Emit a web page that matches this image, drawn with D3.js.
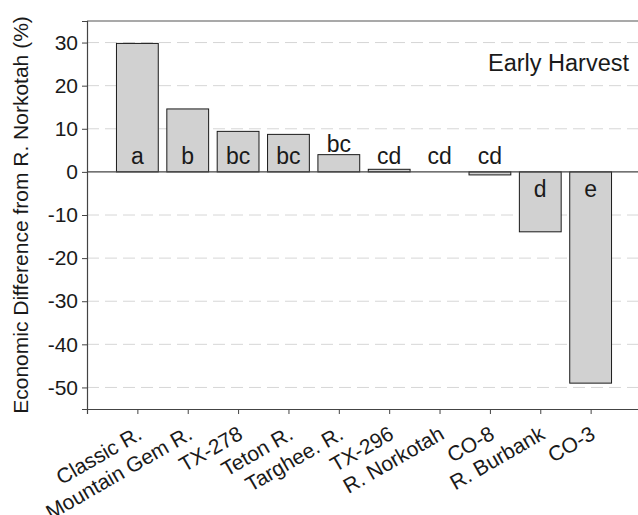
<!DOCTYPE html>
<html>
<head>
<meta charset="utf-8">
<script src="https://cdn.jsdelivr.net/npm/d3@7"></script>
<style>
  body { margin: 0; background: #fff; }
  text { font-family: "Liberation Sans", Arial, sans-serif; fill: #1a1a1a; }
</style>
</head>
<body>
<script>
const width = 638;
const height = 515;

// data
const cultivars = ["Classic R.", "Mountain Gem R.", "TX-278", "Teton R.", "Targhee. R.",
                   "TX-296", "R. Norkotah", "CO-8", "R. Burbank", "CO-3"];
const econDiff = [29.8, 14.6, 9.4, 8.7, 4.0, 0.6, 0, -0.7, -13.9, -49.0];
const groups = ["a", "b", "bc", "bc", "bc", "cd", "cd", "cd", "d", "e"];
const yTicks = [-50, -40, -30, -20, -10, 0, 10, 20, 30];

const margin = {top: 21, left: 87, bottom: 409};

const svg = d3.select("body").append("svg")
    .attr("width", width)
    .attr("height", height);

const x = d3.scaleLinear().domain([0, 11]).range([margin.left, 641]);
const y = d3.scaleLinear().domain([-55, 35]).range([margin.bottom, margin.top]);

// dashed grid
svg.append("g")
  .selectAll("line")
  .data(yTicks.filter(d => d !== 0))
  .join("line")
    .attr("x1", margin.left).attr("x2", width)
    .attr("y1", d => y(d)).attr("y2", d => y(d))
    .attr("stroke", "#d6d6d6")
    .attr("stroke-width", 1)
    .attr("stroke-dasharray", "12,6");

// bars
const bw = 0.83;
svg.append("g")
  .selectAll("rect")
  .data(econDiff)
  .join("rect")
    .attr("x", (d, i) => x(i + 1 - bw / 2))
    .attr("width", x(bw) - x(0))
    .attr("y", d => y(Math.max(d, 0)))
    .attr("height", d => Math.abs(y(d) - y(0)))
    .attr("fill", "#d1d1d1")
    .attr("stroke", "#1a1a1a")
    .attr("stroke-width", 1);

// zero line
svg.append("line")
    .attr("x1", margin.left).attr("x2", width)
    .attr("y1", y(0)).attr("y2", y(0))
    .attr("stroke", "#444").attr("stroke-width", 1.2);

// top frame
svg.append("line")
    .attr("x1", margin.left).attr("x2", width)
    .attr("y1", margin.top).attr("y2", margin.top)
    .attr("stroke", "#555").attr("stroke-width", 1.2);

// y axis
const yAxis = svg.append("g")
    .attr("transform", `translate(${margin.left},0)`)
    .call(d3.axisLeft(y).tickValues(yTicks).tickSize(5).tickPadding(4).tickFormat(d => String(d)));
yAxis.select(".domain").attr("stroke", "#444").attr("stroke-width", 1.2);
yAxis.selectAll(".tick line").attr("stroke", "#444");
yAxis.selectAll(".tick text")
    .style("font-size", "21px")
    .attr("fill", "#1a1a1a");

// x axis
const xAxis = svg.append("g")
    .attr("transform", `translate(0,${margin.bottom})`)
    .call(d3.axisBottom(x).tickValues(d3.range(1, 11)).tickSize(5).tickFormat(""));
xAxis.select(".domain").attr("stroke", "#444").attr("stroke-width", 1.2);
xAxis.selectAll(".tick line").attr("stroke", "#444");

svg.append("g")
  .selectAll("text")
  .data(cultivars)
  .join("text")
    .attr("transform", (d, i) => `translate(${x(i + 1) + 6},${margin.bottom + 29}) rotate(-30)`)
    .attr("text-anchor", "end")
    .style("font-size", "21px")
    .text(d => d);

// significance letters: inside tall bars, just above short ones
svg.append("g")
  .selectAll("text")
  .data(groups)
  .join("text")
    .attr("x", (d, i) => x(i + 1))
    .attr("y", (d, i) => {
      const v = econDiff[i];
      if (v < -5) return y(0) + 25;
      if (v > 6) return y(0) - 8;
      return Math.min(y(0) - 8, y(v) - 3);
    })
    .attr("text-anchor", "middle")
    .style("font-size", "23px")
    .text(d => d);

// panel label
svg.append("text")
    .attr("x", 629).attr("y", 70.5)
    .attr("text-anchor", "end")
    .style("font-size", "23.5px")
    .text("Early Harvest");

// y title
svg.append("text")
    .attr("transform", `translate(28,${(margin.top + margin.bottom) / 2}) rotate(-90)`)
    .attr("text-anchor", "middle")
    .style("font-size", "21px")
    .text("Economic Difference from R. Norkotah (%)");
</script>
</body>
</html>
